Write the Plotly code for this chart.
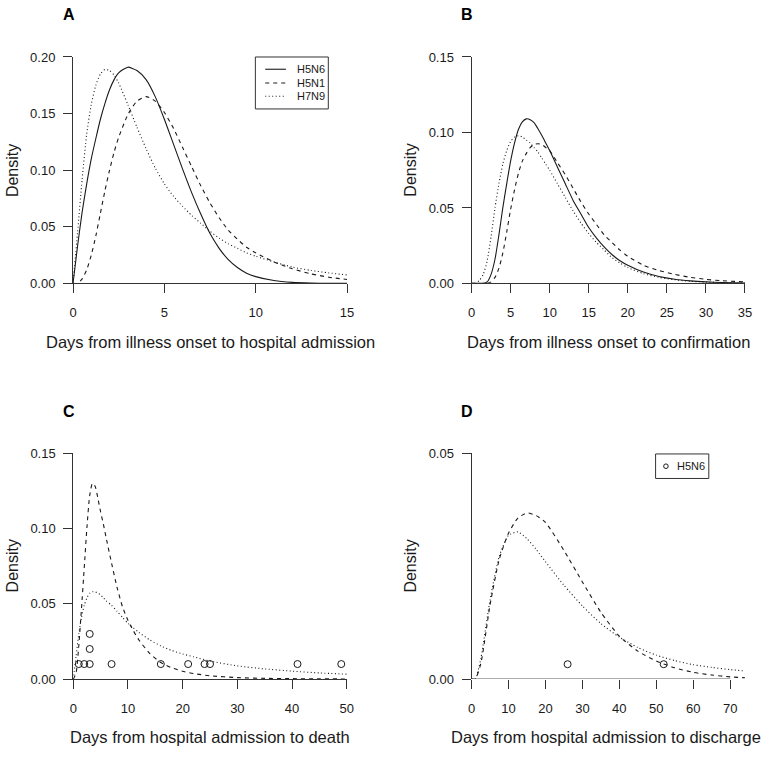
import plotly.graph_objects as go

# ---------------- data ----------------
# Panel A: days from illness onset to hospital admission
A_x = [0, 0.25, 0.5, 0.75, 1, 1.25, 1.5, 1.75, 2, 2.25, 2.5, 3, 3.5, 4, 4.5, 5, 5.5, 6,
       6.5, 7, 7.5, 8, 8.5, 9, 9.5, 10, 11, 12, 13, 14, 15]
A_h5n6 = [0, 0.033, 0.063, 0.088, 0.110, 0.128, 0.145, 0.159, 0.171, 0.180, 0.186, 0.191,
          0.188, 0.180, 0.165, 0.145, 0.123, 0.101, 0.080, 0.061, 0.044, 0.031, 0.021,
          0.014, 0.009, 0.006, 0.0025, 0.0009, 0.0003, 0.0001, 0.0]
A_h5n1 = [0, 0.0, 0.004, 0.012, 0.025, 0.042, 0.062, 0.082, 0.100, 0.116, 0.129, 0.149,
          0.161, 0.165, 0.161, 0.151, 0.137, 0.120, 0.103, 0.086, 0.071, 0.058, 0.047,
          0.039, 0.032, 0.027, 0.019, 0.013, 0.0085, 0.0055, 0.0035]
A_h7n9 = [0, 0.045, 0.092, 0.132, 0.158, 0.175, 0.185, 0.189, 0.188, 0.184, 0.177, 0.158,
          0.138, 0.119, 0.102, 0.088, 0.077, 0.068, 0.060, 0.053, 0.046, 0.040, 0.035,
          0.031, 0.027, 0.024, 0.019, 0.0145, 0.0115, 0.0093, 0.0075]

# Panel B: days from illness onset to confirmation
B_x = [0, 0.5, 1, 1.5, 2, 2.5, 3, 3.5, 4, 4.5, 5, 5.5, 6, 6.5, 7, 7.5, 8, 8.5, 9, 9.5, 10,
       11, 12, 13, 14, 15, 16, 17, 18, 19, 20, 22, 24, 26, 28, 30, 32, 35]
B_h5n6 = [0, 0, 0, 0, 0.001, 0.006, 0.016, 0.032, 0.050, 0.066, 0.081, 0.093, 0.102, 0.107,
          0.109, 0.1085, 0.1065, 0.1025, 0.098, 0.093, 0.088, 0.077, 0.066, 0.055, 0.046,
          0.037, 0.030, 0.024, 0.019, 0.015, 0.012, 0.0075, 0.0046, 0.0028, 0.0017,
          0.0010, 0.0006, 0.0003]
B_h5n1 = [0, 0, 0, 0, 0, 0.001, 0.004, 0.010, 0.020, 0.034, 0.049, 0.062, 0.073, 0.081,
          0.086, 0.090, 0.092, 0.0925, 0.092, 0.090, 0.088, 0.080, 0.072, 0.063, 0.054,
          0.046, 0.039, 0.032, 0.027, 0.022, 0.018, 0.012, 0.0085, 0.0060, 0.0040,
          0.0027, 0.0018, 0.0010]
B_h7n9 = [0, 0.0, 0.002, 0.006, 0.015, 0.031, 0.050, 0.066, 0.079, 0.088, 0.094, 0.097,
          0.0978, 0.097, 0.095, 0.093, 0.090, 0.087, 0.083, 0.079, 0.075, 0.066, 0.057,
          0.048, 0.040, 0.033, 0.027, 0.022, 0.017, 0.0135, 0.0105, 0.0065, 0.0040,
          0.0024, 0.0014, 0.0009, 0.0005, 0.0002]

# Panel C: days from hospital admission to death
C_x = [0, 0.5, 1, 1.5, 2, 2.5, 3, 3.5, 4, 4.5, 5, 5.5, 6, 7, 8, 9, 10, 11, 12, 14, 16, 18,
       20, 22, 25, 30, 35, 40, 45, 50]
C_h5n1 = [0, 0.004, 0.022, 0.047, 0.074, 0.101, 0.122, 0.130, 0.128, 0.120, 0.111, 0.103,
          0.094, 0.077, 0.061, 0.048, 0.039, 0.032, 0.026, 0.017, 0.011, 0.0075, 0.0052,
          0.0037, 0.0022, 0.0010, 0.0005, 0.0003, 0.0002, 0.0001]
C_h7n9 = [0, 0.015, 0.030, 0.041, 0.049, 0.054, 0.057, 0.058, 0.058, 0.057, 0.056, 0.054,
          0.052, 0.049, 0.045, 0.041, 0.037, 0.034, 0.031, 0.026, 0.022, 0.019, 0.0167,
          0.0148, 0.012, 0.0088, 0.0068, 0.0053, 0.0041, 0.0033]
C_obs_x = [1, 2, 3, 3, 3, 7, 16, 21, 24, 25, 41, 49]
C_obs_y = [0.01, 0.01, 0.01, 0.02, 0.03, 0.01, 0.01, 0.01, 0.01, 0.01, 0.01, 0.01]

# Panel D: days from hospital admission to discharge
D_x = [0, 1, 2.5, 5, 7.5, 10, 12.5, 15, 17.5, 20, 25, 30, 35, 40, 45, 50, 55, 60, 65, 70, 74]
D_h5n1 = [0, 0, 0.0034, 0.0164, 0.0265, 0.0323, 0.0356, 0.0368, 0.0362, 0.0347, 0.0285,
          0.0215, 0.0148, 0.0095, 0.0062, 0.0040, 0.0025, 0.0015, 0.0009, 0.0005, 0.0003]
D_h7n9 = [0, 0, 0.0045, 0.0175, 0.0272, 0.0318, 0.0326, 0.0311, 0.0287, 0.0260, 0.0208,
          0.0162, 0.0123, 0.0093, 0.0070, 0.0053, 0.0041, 0.0032, 0.0026, 0.0021, 0.0018]
D_obs_x = [26, 52]
D_obs_y = [0.0033, 0.0033]

A_yticks = [0, 0.05, 0.10, 0.15, 0.20]
B_yticks = [0, 0.05, 0.10, 0.15]
C_yticks = [0, 0.05, 0.10, 0.15]
D_yticks = [0, 0.05]
A_xticks = [0, 5, 10, 15]
B_xticks = [0, 5, 10, 15, 20, 25, 30, 35]
C_xticks = [0, 10, 20, 30, 40, 50]
D_xticks = [0, 10, 20, 30, 40, 50, 60, 70]

x_titles = ["Days from illness onset to hospital admission",
            "Days from illness onset to confirmation",
            "Days from hospital admission to death",
            "Days from hospital admission to discharge"]
panel_labels = ["A", "B", "C", "D"]
series_names = ["H5N6", "H5N1", "H7N9"]

# ---------------- styling ----------------
W, H = 772, 757
FONT = "Liberation Sans, Arial, Helvetica, sans-serif"
INK = "#1a1a1a"
AX = "#333333"
LW = 1.1
DASH = "4px,4px"
DOT = "1px,2.5px"


def px_x(p):
    return p / W


def px_y(p):
    return 1 - p / H


# panel pixel boxes: (left, right, top, bottom)
boxes = [(70, 348, 51, 282), (474.3, 751.7, 51, 282),
         (70.3, 347.7, 455.3, 685.7), (474.3, 751.7, 455.3, 685.7)]
title_cx = [209, 613, 209, 610.5]

fig = go.Figure()


def line(x, y, dash, name, ax):
    fig.add_trace(go.Scatter(x=x, y=y, mode="lines", name=name, showlegend=False,
                             line=dict(color=INK, width=LW, dash=dash, shape="spline",
                                       smoothing=0.6),
                             xaxis="x" + ax, yaxis="y" + ax, hoverinfo="skip"))


def points(x, y, name, ax):
    fig.add_trace(go.Scatter(x=x, y=y, mode="markers", name=name, showlegend=False,
                             marker=dict(symbol="circle-open", size=7, color=INK,
                                         line=dict(width=1, color=INK)),
                             xaxis="x" + ax, yaxis="y" + ax, hoverinfo="skip"))


line(A_x, A_h5n6, "solid", "H5N6", "")
line(A_x, A_h5n1, DASH, "H5N1", "")
line(A_x, A_h7n9, DOT, "H7N9", "")
line(B_x, B_h5n6, "solid", "H5N6", "2")
line(B_x, B_h5n1, DASH, "H5N1", "2")
line(B_x, B_h7n9, DOT, "H7N9", "2")
line(C_x, C_h5n1, DASH, "H5N1", "3")
line(C_x, C_h7n9, DOT, "H7N9", "3")
points(C_obs_x, C_obs_y, "H5N6", "3")
line(D_x, D_h5n1, DASH, "H5N1", "4")
line(D_x, D_h7n9, DOT, "H7N9", "4")
points(D_obs_x, D_obs_y, "H5N6", "4")

xranges = [[0, 15], [0, 35], [0, 50], [0, 74]]
yranges = [[0, 0.20], [0, 0.15], [0, 0.15], [0, 0.05]]
xticks = [A_xticks, B_xticks, C_xticks, D_xticks]
yticks = [A_yticks, B_yticks, C_yticks, D_yticks]

common = dict(showgrid=False, zeroline=False, ticks="outside", ticklen=9, tickwidth=1,
              tickcolor=AX, linecolor=AX, linewidth=1,
              tickfont=dict(family=FONT, size=13, color=INK), fixedrange=True)

layout = dict(width=W, height=H, margin=dict(l=0, r=0, t=0, b=0),
              paper_bgcolor="white", plot_bgcolor="white", showlegend=False,
              font=dict(family=FONT, color=INK))
annotations = []
shapes = []
for i, (l, r, t, b) in enumerate(boxes):
    sfx = "" if i == 0 else str(i + 1)
    layout["xaxis" + sfx] = dict(common, domain=[px_x(l), px_x(r)], range=xranges[i],
                                 anchor="y" + sfx, tickvals=xticks[i],
                                 ticktext=[str(v) for v in xticks[i]],
                                 showline=(i != 3), ticklabelstandoff=8)
    layout["yaxis" + sfx] = dict(common, domain=[px_y(b), px_y(t)], range=yranges[i],
                                 anchor="x" + sfx, tickvals=yticks[i],
                                 ticktext=["%.2f" % v for v in yticks[i]],
                                 showline=True, ticklabelstandoff=5)
    annotations.append(dict(text=x_titles[i], xref="paper", yref="paper",
                            x=px_x(title_cx[i]), y=px_y(b + 59.5), xanchor="center",
                            yanchor="middle", showarrow=False,
                            font=dict(family=FONT, size=16.5, color=INK)))
    annotations.append(dict(text="Density", xref="paper", yref="paper", textangle=-90,
                            x=px_x(l - 62), y=px_y((t + b) / 2), xanchor="center",
                            yanchor="middle", showarrow=False,
                            font=dict(family=FONT, size=16, color=INK)))
    annotations.append(dict(text="<b>%s</b>" % panel_labels[i], xref="paper", yref="paper",
                            x=px_x(l - 4.5), y=px_y(t - 43), xanchor="center",
                            yanchor="middle", showarrow=False,
                            font=dict(family=FONT, size=16, color="#000")))

# x axis line of panel D stops at the last tick (70)
shapes.append(dict(type="line", xref="x4", yref="y4", x0=D_xticks[0], x1=D_xticks[-1],
                   y0=0, y1=0, line=dict(color=AX, width=1)))

# legend for panel A
shapes.append(dict(type="rect", xref="paper", yref="paper", x0=px_x(255), x1=px_x(329),
                   y0=px_y(104), y1=px_y(51), line=dict(color=AX, width=1)))
for name, dash, yy in zip(series_names, ["solid", DASH, DOT], [63.5, 77.5, 91]):
    shapes.append(dict(type="line", xref="paper", yref="paper", x0=px_x(265), x1=px_x(286),
                       y0=px_y(yy), y1=px_y(yy), line=dict(color=INK, width=LW, dash=dash)))
    annotations.append(dict(text=name, xref="paper", yref="paper", x=px_x(295), y=px_y(yy),
                            xanchor="left", yanchor="middle", showarrow=False,
                            font=dict(family=FONT, size=11, color=INK)))

# legend for panel D
shapes.append(dict(type="rect", xref="paper", yref="paper", x0=px_x(661), x1=px_x(715),
                   y0=px_y(481), y1=px_y(456), line=dict(color=AX, width=1)))
shapes.append(dict(type="circle", xref="paper", yref="paper", xsizemode="pixel",
                   ysizemode="pixel", xanchor=px_x(671.5), yanchor=px_y(468.5),
                   x0=-2.3, x1=2.3, y0=-2.3, y1=2.3, line=dict(color=INK, width=1)))
annotations.append(dict(text="H5N6", xref="paper", yref="paper", x=px_x(681), y=px_y(468.5),
                        xanchor="left", yanchor="middle", showarrow=False,
                        font=dict(family=FONT, size=11, color=INK)))

layout["annotations"] = annotations
layout["shapes"] = shapes
fig.update_layout(**layout)
fig.write_html("out.html", config={"displayModeBar": False, "staticPlot": True},
               post_script="document.body.style.margin='0';"
                           "document.body.style.overflow='hidden';")
